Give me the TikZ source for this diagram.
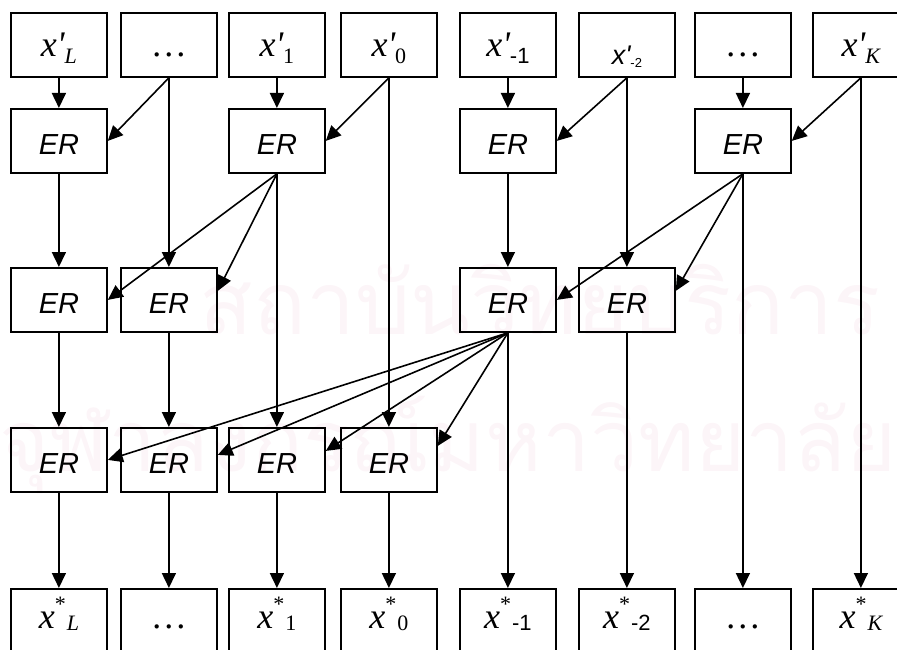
\documentclass[tikz,border=0pt]{standalone}
\usepackage{fontspec}
\setmainfont{Liberation Serif}
\setsansfont{Liberation Sans}
\newfontfamily\thaifont[Script=Thai]{Loma}
\usetikzlibrary{arrows.meta}
\definecolor{wm}{RGB}{252,245,248}
\newcommand{\xtop}[1]{{\itshape x\textquotesingle}\raisebox{-7pt}{\fontsize{22}{23}\selectfont #1}}
\newcommand{\xbot}[1]{{\itshape x}\raisebox{17pt}{\fontsize{22}{23}\selectfont *}\hspace{1pt}\raisebox{-2pt}{\fontsize{22}{23}\selectfont #1}}
\newcommand{\sfsub}[1]{{\sffamily #1}}
\begin{document}
\begin{tikzpicture}[x=1pt,y=-1pt,
  box/.style={draw, line width=1.8pt, minimum width=96pt, minimum height=64pt,
    inner sep=0pt, anchor=north west, font=\fontsize{36}{38}\selectfont},
  topbox/.style={box, text height=26pt, text depth=3pt},
  erbox/.style={box, font=\fontsize{29}{30}\selectfont\sffamily\itshape,
    text height=28pt, text depth=0pt},
  botbox/.style={box, text height=21pt, text depth=5pt},
  arr/.style={-{Triangle[length=15pt,width=14pt]}, line width=1.6pt},
  wmtext/.style={text=wm, inner sep=0pt}]
\useasboundingbox (0,0) rectangle (897,650);
\clip (0,0) rectangle (897,650);
% watermark
\node[wmtext] (wm1) at (540,300) {\resizebox{680pt}{!}{\thaifont สถาบันวิทยบริการ}};
\node[wmtext] (wm2) at (448,445) {\resizebox{897pt}{!}{\thaifont จุฬาลงกรณ์มหาวิทยาลัย}};
% top row
\node[topbox] (t1) at (10,12)  {\xtop{\itshape L}};
\node[topbox] (t2) at (120,12) {\dots};
\node[topbox] (t3) at (228,12) {\xtop{1}};
\node[topbox] (t4) at (340,12) {\xtop{0}};
\node[topbox] (t5) at (459,12) {\xtop{\sfsub{-1}}};
\node[topbox] (t6) at (578,12) {\raisebox{-8pt}{{\sffamily\fontsize{27}{28}\selectfont\itshape x\textquotesingle}\raisebox{-3pt}{\sffamily\fontsize{13}{14}\selectfont -2}}};
\node[topbox] (t7) at (694,12) {\dots};
\node[topbox] (t8) at (812,12) {\xtop{\itshape K}};
% ER row 1
\node[erbox] (a1) at (10,108)  {ER};
\node[erbox] (a3) at (228,108) {ER};
\node[erbox] (a5) at (459,108) {ER};
\node[erbox] (a7) at (694,108) {ER};
% ER row 2
\node[erbox] (b1) at (10,267)  {ER};
\node[erbox] (b2) at (120,267) {ER};
\node[erbox] (b5) at (459,267) {ER};
\node[erbox] (b6) at (578,267) {ER};
% ER row 3
\node[erbox] (c1) at (10,427)  {ER};
\node[erbox] (c2) at (120,427) {ER};
\node[erbox] (c3) at (228,427) {ER};
\node[erbox] (c4) at (340,427) {ER};
% bottom row
\node[botbox] (d1) at (10,588)  {\xbot{\itshape L}};
\node[botbox] (d2) at (120,588) {\dots};
\node[botbox] (d3) at (228,588) {\xbot{1}};
\node[botbox] (d4) at (340,588) {\xbot{0}};
\node[botbox] (d5) at (459,588) {\xbot{\sfsub{-1}}};
\node[botbox] (d6) at (578,588) {\xbot{\sfsub{-2}}};
\node[botbox] (d7) at (694,588) {\dots};
\node[botbox] (d8) at (812,588) {\xbot{\itshape K}};
% connectors from top row
\draw[arr] (t1.south) -- (a1.north);
\draw[arr] (t2.south) -- (a1.east);
\draw[arr] (t2.south) -- (b2.north);
\draw[arr] (t3.south) -- (a3.north);
\draw[arr] (t4.south) -- (a3.east);
\draw[arr] (t4.south) -- (c4.north);
\draw[arr] (t5.south) -- (a5.north);
\draw[arr] (t6.south) -- (a5.east);
\draw[arr] (t6.south) -- (b6.north);
\draw[arr] (t7.south) -- (a7.north);
\draw[arr] (t8.south) -- (a7.east);
\draw[arr] (t8.south) -- (d8.north);
% from ER row 1
\draw[arr] (a1.south) -- (b1.north);
\draw[arr] (a3.south) -- (b1.east);
\draw[arr] (a3.south) -- ([yshift=9pt]b2.east);
\draw[arr] (a3.south) -- (c3.north);
\draw[arr] (a5.south) -- (b5.north);
\draw[arr] (a7.south) -- (b5.east);
\draw[arr] (a7.south) -- ([yshift=9pt]b6.east);
\draw[arr] (a7.south) -- (d7.north);
% from ER row 2
\draw[arr] (b1.south) -- (c1.north);
\draw[arr] (b2.south) -- (c2.north);
\draw[arr] (b5.south) -- (c1.east);
\draw[arr] (b5.south) -- ([yshift=5pt]c2.east);
\draw[arr] (b5.south) -- ([yshift=9pt]c3.east);
\draw[arr] (b5.south) -- ([yshift=14pt]c4.east);
\draw[arr] (b5.south) -- (d5.north);
\draw[arr] (b6.south) -- (d6.north);
% from ER row 3
\draw[arr] (c1.south) -- (d1.north);
\draw[arr] (c2.south) -- (d2.north);
\draw[arr] (c3.south) -- (d3.north);
\draw[arr] (c4.south) -- (d4.north);
\end{tikzpicture}
\end{document}
